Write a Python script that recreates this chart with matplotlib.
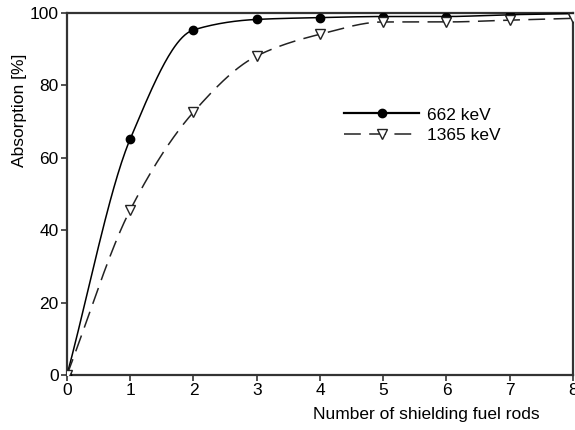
import numpy as np
import matplotlib
matplotlib.use("Agg")
import matplotlib.pyplot as plt

plt.rcParams['font.family'] = ['Liberation Sans', 'DejaVu Sans']

rods = [0, 1, 2, 3, 4, 5, 6, 7, 8]
abs_662 = [0, 65.2, 95.3, 98.2, 98.7, 99.0, 99.0, 99.5, 99.8]
abs_1365 = [0, 45.6, 72.6, 88.1, 94.1, 97.5, 97.5, 98.0, 98.5]
labels = ['662 keV', '1365 keV']
x_ticks = [0, 1, 2, 3, 4, 5, 6, 7, 8]
y_ticks = [0, 20, 40, 60, 80, 100]


def pchip(x, y, xs):
    x = np.asarray(x, float); y = np.asarray(y, float)
    h = np.diff(x); d = np.diff(y) / h
    m = np.zeros_like(y)
    for k in range(1, len(x) - 1):
        if d[k - 1] * d[k] > 0:
            w1 = 2 * h[k] + h[k - 1]; w2 = h[k] + 2 * h[k - 1]
            m[k] = (w1 + w2) / (w1 / d[k - 1] + w2 / d[k])
    m[0] = d[0]; m[-1] = d[-1]
    idx = np.clip(np.searchsorted(x, xs) - 1, 0, len(x) - 2)
    t = (xs - x[idx]) / h[idx]
    h00 = 2 * t**3 - 3 * t**2 + 1; h10 = t**3 - 2 * t**2 + t
    h01 = -2 * t**3 + 3 * t**2; h11 = t**3 - t**2
    return h00 * y[idx] + h10 * h[idx] * m[idx] + h01 * y[idx + 1] + h11 * h[idx] * m[idx + 1]


FS = 12.5
fig = plt.figure(figsize=(5.75, 4.3), dpi=100)
ax = fig.add_axes([0.1165, 0.128, 0.88, 0.842])

DASH = (11, 5.5)
xs = np.linspace(0, 8, 400)
ax.plot(xs, pchip(rods, abs_662, xs), color='black', lw=1.1, zorder=3)
ax.plot(rods, abs_662, 'o', color='black', ms=6, zorder=4)
ax.plot(xs, pchip(rods, abs_1365, xs), color='#222222', lw=1.1,
        dashes=DASH, zorder=3)
ax.plot(rods, abs_1365, 'v', mfc='white', mec='#222222', mew=1.0, ms=6.5, zorder=4)

h1, = ax.plot([], [], '-o', color='black', lw=1.6, ms=6)
h2, = ax.plot([], [], 'v', color='#222222', lw=1.1, ls='--', dashes=DASH,
              mfc='white', mec='#222222', ms=6.5)
ax.legend([h1, h2], labels, loc='center left', bbox_to_anchor=(0.548, 0.69),
          frameon=False, fontsize=FS, handlelength=4.3, handletextpad=0.45,
          labelspacing=0.3, borderpad=0, borderaxespad=0)

ax.set_xlim(0, 8)
ax.set_ylim(0, 100)
ax.set_xticks(x_ticks)
ax.set_yticks(y_ticks)
ax.tick_params(axis='both', direction='out', length=4, width=1.2,
               labelsize=FS, color='#333333', top=False, right=False, pad=2)
for s in ax.spines.values():
    s.set_linewidth(1.6)
    s.set_color('#333333')

ax.set_ylabel('Absorption [%]', fontsize=FS)
ax.yaxis.set_label_coords(-0.08, 0.73)
ax.set_xlabel('Number of shielding fuel rods', fontsize=FS)
ax.xaxis.set_label_coords(0.71, -0.088)

fig.savefig('out.png', dpi=100)
